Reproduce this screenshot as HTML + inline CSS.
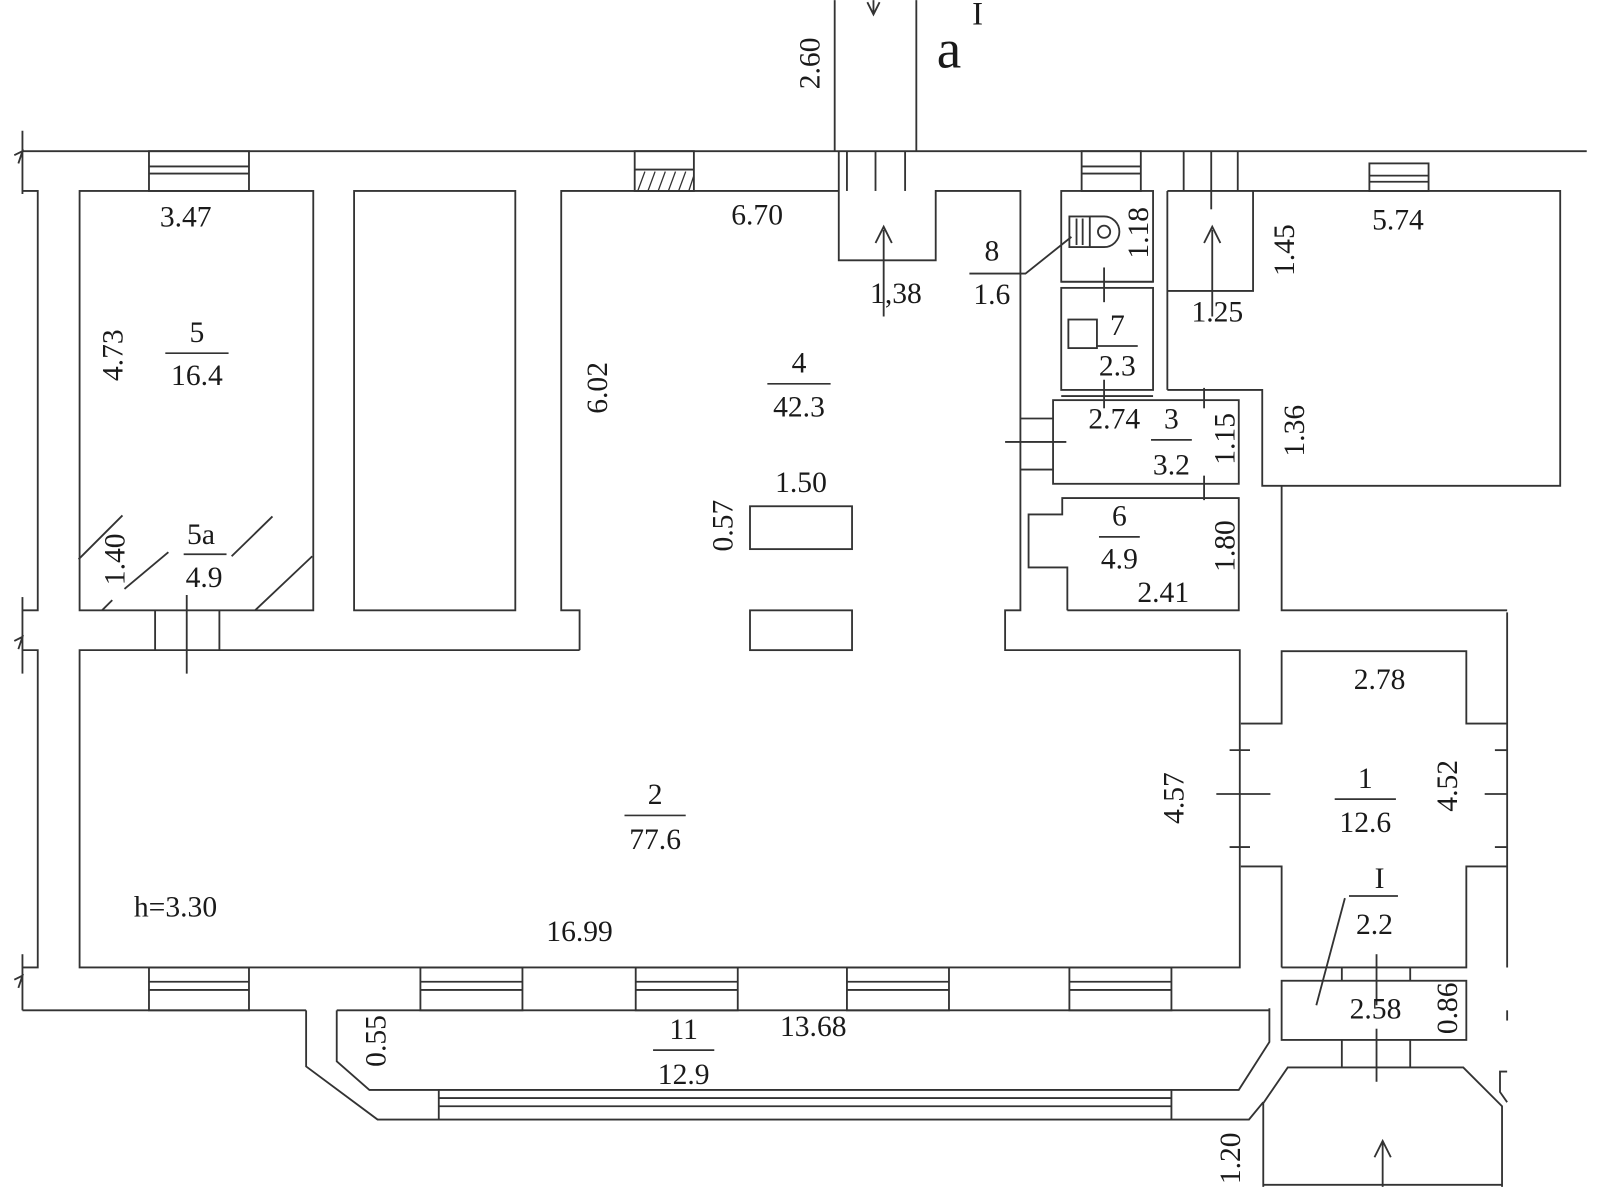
<!DOCTYPE html>
<html><head><meta charset="utf-8"><style>
html,body{margin:0;padding:0;background:#fff;}
svg{display:block;}
text{font-family:"Liberation Serif",serif;fill:#1a1a1a;font-size:29px;}
</style></head><body>
<svg width="1600" height="1187" viewBox="0 0 1568 1163" xmlns="http://www.w3.org/2000/svg">
<g fill="none" stroke="#333" stroke-width="1.8">
<line x1="818" y1="0" x2="818" y2="148"/><line x1="898" y1="0" x2="898" y2="148"/>
<polyline points="850,2 856,14 862,2"/><line x1="856" y1="0" x2="856" y2="14"/>
<line x1="22" y1="148" x2="1555" y2="148"/>
<line x1="22" y1="128" x2="22" y2="190"/><polyline points="14,152 22,148 18,160"/>
<line x1="22" y1="585" x2="22" y2="660"/><polyline points="14,628 22,624 18,636"/>
<line x1="22" y1="935" x2="22" y2="990"/><polyline points="14,960 22,956 18,968"/>
<polyline points="22,187 37,187 37,598 22,598"/>
<polyline points="22,637 37,637 37,948 22,948"/>
<rect x="78" y="187" width="229" height="411"/>
<rect x="146" y="148" width="98" height="39"/><line x1="146" y1="163" x2="244" y2="163"/><line x1="146" y1="170" x2="244" y2="170"/>
<line x1="77" y1="548" x2="120" y2="505"/><line x1="122" y1="577" x2="165" y2="541"/>
<line x1="227" y1="545" x2="267" y2="506"/><line x1="250" y1="598" x2="306" y2="545"/>
<line x1="100" y1="598" x2="110" y2="588"/>
<rect x="347" y="187" width="158" height="411"/>
<rect x="622" y="148" width="58" height="39"/><line x1="622" y1="166" x2="680" y2="166"/>
<g stroke-width="1.3"><line x1="625" y1="187" x2="632" y2="168"/><line x1="635" y1="187" x2="642" y2="168"/><line x1="645" y1="187" x2="652" y2="168"/><line x1="655" y1="187" x2="662" y2="168"/><line x1="665" y1="187" x2="672" y2="168"/><line x1="675" y1="187" x2="680" y2="172"/></g>
<polyline points="568,637 568,598 550,598 550,187 822,187"/>
<polyline points="822,148 822,255 917,255 917,187 1000,187 1000,598 985,598 985,637 1215,637 1215,948 78,948 78,637 568,637"/>
<line x1="887" y1="148" x2="887" y2="187"/><line x1="858" y1="148" x2="858" y2="187"/><line x1="830" y1="148" x2="830" y2="187"/>
<line x1="866" y1="225" x2="866" y2="310"/><polyline points="858,238 866,222 874,238"/>
<rect x="735" y="496" width="100" height="42"/><rect x="735" y="598" width="100" height="39"/>
<line x1="152" y1="598" x2="152" y2="637"/><line x1="215" y1="598" x2="215" y2="637"/><line x1="183" y1="583" x2="183" y2="660"/>
<line x1="22" y1="990" x2="300" y2="990"/>
<g>
<rect x="146" y="948" width="98" height="42"/><line x1="146" y1="962" x2="244" y2="962"/><line x1="146" y1="970" x2="244" y2="970"/>
<rect x="412" y="948" width="100" height="42"/><line x1="412" y1="962" x2="512" y2="962"/><line x1="412" y1="970" x2="512" y2="970"/>
<rect x="623" y="948" width="100" height="42"/><line x1="623" y1="962" x2="723" y2="962"/><line x1="623" y1="970" x2="723" y2="970"/>
<rect x="830" y="948" width="100" height="42"/><line x1="830" y1="962" x2="930" y2="962"/><line x1="830" y1="970" x2="930" y2="970"/>
<rect x="1048" y="948" width="100" height="42"/><line x1="1048" y1="962" x2="1148" y2="962"/><line x1="1048" y1="970" x2="1148" y2="970"/>
</g>
<line x1="330" y1="990" x2="1244" y2="990"/>
<polyline points="300,990 300,1045 370,1097 1224,1097 1238,1080"/>
<polyline points="330,990 330,1040 362,1068 1214,1068 1244,1021 1244,988"/>
<line x1="430" y1="1068" x2="430" y2="1097"/><line x1="1148" y1="1068" x2="1148" y2="1097"/>
<line x1="430" y1="1076" x2="1148" y2="1076"/><line x1="430" y1="1084" x2="1148" y2="1084"/>
<polyline points="1256,948 1256,849 1216,849"/>
<polyline points="1216,709 1256,709 1256,638 1437,638 1437,709 1477,709"/>
<polyline points="1477,849 1437,849 1437,948 1256,948"/>
<line x1="1477" y1="600" x2="1477" y2="948"/>
<line x1="1205" y1="735" x2="1225" y2="735"/><line x1="1192" y1="778" x2="1245" y2="778"/><line x1="1205" y1="830" x2="1225" y2="830"/>
<line x1="1465" y1="735" x2="1477" y2="735"/><line x1="1455" y1="778" x2="1477" y2="778"/><line x1="1465" y1="830" x2="1477" y2="830"/>
<line x1="1290" y1="985" x2="1318" y2="880"/>
<rect x="1256" y="961" width="181" height="58"/>
<line x1="1315" y1="948" x2="1315" y2="961"/><line x1="1382" y1="948" x2="1382" y2="961"/><line x1="1349" y1="935" x2="1349" y2="985"/>
<line x1="1315" y1="1019" x2="1315" y2="1046"/><line x1="1382" y1="1019" x2="1382" y2="1046"/><line x1="1349" y1="1008" x2="1349" y2="1060"/>
<polyline points="1238,1163 1238,1081 1262,1046 1434,1046 1472,1084 1472,1163"/>
<line x1="1238" y1="1161" x2="1472" y2="1161"/>
<line x1="1355" y1="1120" x2="1355" y2="1163"/><polyline points="1347,1134 1355,1118 1363,1134"/>
<polyline points="1477,1050 1470,1050 1470,1070 1477,1080"/>
<line x1="1477" y1="990" x2="1477" y2="1000"/>
<rect x="1040" y="187" width="90" height="89"/>
<rect x="1040" y="282" width="90" height="100"/>
<line x1="1040" y1="276" x2="1130" y2="276"/>
<line x1="1040" y1="388" x2="1130" y2="388"/>
<line x1="1082" y1="262" x2="1082" y2="296"/><line x1="1082" y1="372" x2="1082" y2="400"/>
<rect x="1060" y="148" width="58" height="39"/><line x1="1060" y1="163" x2="1118" y2="163"/><line x1="1060" y1="170" x2="1118" y2="170"/>
<rect x="1032" y="392" width="182" height="82"/>
<line x1="1000" y1="410" x2="1032" y2="410"/><line x1="985" y1="433" x2="1045" y2="433"/><line x1="1000" y1="460" x2="1032" y2="460"/>
<line x1="1180" y1="380" x2="1180" y2="400"/><line x1="1180" y1="466" x2="1180" y2="490"/>
<polyline points="1046,598 1046,556 1008,556 1008,504 1041,504 1041,488 1214,488 1214,598 1046,598"/>
<line x1="1144" y1="187" x2="1144" y2="382"/>
<polyline points="1144,382 1237,382 1237,476 1529,476 1529,187 1228,187"/>
<polyline points="1144,187 1228,187 1228,285 1144,285"/>
<line x1="1160" y1="148" x2="1160" y2="187"/><line x1="1187" y1="148" x2="1187" y2="205"/><line x1="1213" y1="148" x2="1213" y2="187"/>
<line x1="1188" y1="225" x2="1188" y2="310"/><polyline points="1180,238 1188,222 1196,238"/>
<rect x="1342" y="160" width="58" height="27"/><line x1="1342" y1="172" x2="1400" y2="172"/><line x1="1342" y1="178" x2="1400" y2="178"/>
<polyline points="1256,476 1256,598 1477,598"/>
<rect x="1048" y="212" width="20" height="30"/><line x1="1055" y1="214" x2="1055" y2="240"/><line x1="1061" y1="214" x2="1061" y2="240"/>
<path d="M1068,212 H1082 A15,15 0 0 1 1082,242 H1068"/><circle cx="1082" cy="227" r="6"/>
<polyline points="1050,232 1005,268 950,268"/>
<rect x="1047" y="313" width="28" height="28"/>
</g>
<g text-anchor="middle">
<text x="930" y="66" style="font-size:54px">a</text><text x="958" y="24" style="font-size:32px">I</text>
<text transform="translate(803,62) rotate(-90)">2.60</text>
<text x="182" y="222">3.47</text>
<text x="193" y="335">5</text><line x1="162" y1="346" x2="224" y2="346" stroke="#333" stroke-width="1.7"/><text x="193" y="377">16.4</text>
<text transform="translate(120,348) rotate(-90)">4.73</text>
<text transform="translate(595,380) rotate(-90)">6.02</text>
<text x="742" y="220">6.70</text>
<text x="783" y="365">4</text><line x1="752" y1="376" x2="814" y2="376" stroke="#333" stroke-width="1.7"/><text x="783" y="408">42.3</text>
<text x="785" y="482">1.50</text>
<text transform="translate(718,515) rotate(-90)">0.57</text>
<text x="197" y="533">5a</text><line x1="180" y1="543" x2="222" y2="543" stroke="#333" stroke-width="1.7"/><text x="200" y="575">4.9</text>
<text transform="translate(122,548) rotate(-90)">1.40</text>
<text x="878" y="297">1,38</text>
<text x="972" y="255">8</text><text x="972" y="298">1.6</text>
<text transform="translate(1125,228) rotate(-90)">1.18</text>
<text x="1095" y="328">7</text><line x1="1075" y1="339" x2="1115" y2="339" stroke="#333" stroke-width="1.7"/><text x="1095" y="368">2.3</text>
<text transform="translate(1268,245) rotate(-90)">1.45</text>
<text x="1370" y="225">5.74</text>
<text x="1193" y="315">1.25</text>
<text x="1092" y="420">2.74</text>
<text x="1148" y="420">3</text><line x1="1128" y1="431" x2="1168" y2="431" stroke="#333" stroke-width="1.7"/><text x="1148" y="465">3.2</text>
<text transform="translate(1210,430) rotate(-90)">1.15</text>
<text transform="translate(1278,422) rotate(-90)">1.36</text>
<text x="1097" y="515">6</text><line x1="1077" y1="526" x2="1117" y2="526" stroke="#333" stroke-width="1.7"/><text x="1097" y="557">4.9</text>
<text transform="translate(1210,535) rotate(-90)">1.80</text>
<text x="1140" y="590">2.41</text>
<text x="1352" y="675">2.78</text>
<text transform="translate(1160,782) rotate(-90)">4.57</text>
<text x="1338" y="772">1</text><line x1="1308" y1="783" x2="1368" y2="783" stroke="#333" stroke-width="1.7"/><text x="1338" y="815">12.6</text>
<text transform="translate(1428,770) rotate(-90)">4.52</text>
<text x="642" y="788">2</text><line x1="612" y1="799" x2="672" y2="799" stroke="#333" stroke-width="1.7"/><text x="642" y="832">77.6</text>
<text x="172" y="898">h=3.30</text>
<text x="568" y="922">16.99</text>
<text x="1352" y="870">I</text><line x1="1322" y1="878" x2="1370" y2="878" stroke="#333" stroke-width="1.7"/><text x="1347" y="915">2.2</text>
<text x="1348" y="998">2.58</text>
<text transform="translate(1428,988) rotate(-90)">0.86</text>
<text transform="translate(378,1020) rotate(-90)">0.55</text>
<text x="670" y="1018">11</text><line x1="640" y1="1029" x2="700" y2="1029" stroke="#333" stroke-width="1.7"/><text x="670" y="1062">12.9</text>
<text x="797" y="1015">13.68</text>
<text transform="translate(1215,1135) rotate(-90)">1.20</text>
</g>
</svg>
</body></html>
